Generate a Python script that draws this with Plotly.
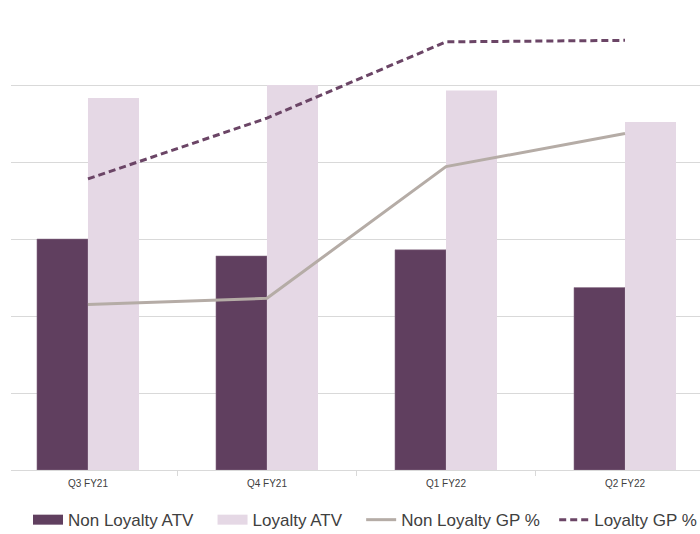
import plotly.graph_objects as go

categories = ["Q3 FY21", "Q4 FY21", "Q1 FY22", "Q2 FY22"]
non_loyalty_atv = [3.00, 2.78, 2.86, 2.37]
loyalty_atv = [4.83, 5.00, 4.93, 4.52]
non_loyalty_gp = [2.15, 2.23, 3.94, 4.37]
loyalty_gp = [3.78, 4.57, 5.56, 5.58]

FONT = "Liberation Sans Narrow, Arial Narrow, Liberation Sans, Arial, sans-serif"
DARK = "#603F5F"
LIGHT = "#E5D8E5"
GREY = "#B5ACA6"
DASH = "#6B4566"
PAD = "\u00a0\u00a0\u00a0"
PAD2 = "\u00a0\u00a0"

fig = go.Figure()
fig.add_trace(go.Bar(x=categories, y=non_loyalty_atv, name="Non Loyalty ATV",
                     legendgroup="nl", showlegend=False,
                     marker=dict(color=DARK, line=dict(color="#8E768D", width=0.5))))
fig.add_trace(go.Bar(x=categories, y=loyalty_atv, name="Loyalty ATV",
                     legendgroup="l", showlegend=False,
                     marker=dict(color=LIGHT, line=dict(width=0))))
fig.add_trace(go.Scatter(x=categories, y=non_loyalty_gp, name="Non Loyalty GP %",
                         mode="lines", line=dict(color=GREY, width=3), showlegend=False,
                         legendgroup="nlgp"))
fig.add_trace(go.Scatter(x=categories, y=loyalty_gp, name="Loyalty GP %",
                         mode="lines", line=dict(color=DASH, width=3, dash="7px,4px"),
                         showlegend=False, legendgroup="lgp"))

# legend entries (wide rectangular swatches like the original)
fig.add_trace(go.Scatter(x=[None], y=[None], mode="lines", name="Non Loyalty ATV" + PAD,
                         legendgroup="nl", line=dict(color=DARK, width=11)))
fig.add_trace(go.Scatter(x=[None], y=[None], mode="lines", name="Loyalty ATV" + PAD,
                         legendgroup="l", line=dict(color=LIGHT, width=11)))
fig.add_trace(go.Scatter(x=[None], y=[None], mode="lines", name="Non Loyalty GP %" + PAD2,
                         legendgroup="nlgp", line=dict(color=GREY, width=3)))
fig.add_trace(go.Scatter(x=[None], y=[None], mode="lines", name="Loyalty GP %",
                         legendgroup="lgp", line=dict(color=DASH, width=3, dash="7px,4px")))

fig.update_layout(
    width=700, height=534,
    margin=dict(l=11, r=0, t=8, b=64),
    paper_bgcolor="white", plot_bgcolor="white",
    barmode="group", bargap=0.43, bargroupgap=0,
    font=dict(family=FONT, color="#404040"),
    showlegend=True,
    legend=dict(orientation="h", xref="container", yref="container",
                x=28 / 700, y=0.026, xanchor="left", yanchor="middle",
                font=dict(size=17, color="#404040"), itemwidth=30,
                traceorder="normal"),
    xaxis=dict(type="category", range=[-0.43, 3.419], showgrid=False,
               showline=True, linecolor="#D9D9D9", linewidth=1,
               ticks="outside", tickson="boundaries", ticklen=5, tickcolor="#D9D9D9",
               ticklabelstandoff=4,
               tickfont=dict(size=10, color="#404040"), fixedrange=True),
    yaxis=dict(range=[0, 6], dtick=1, showgrid=True, gridcolor="#D9D9D9", gridwidth=1,
               showticklabels=False, zeroline=False, showline=False, fixedrange=True),
)

fig.write_html("out.html")
